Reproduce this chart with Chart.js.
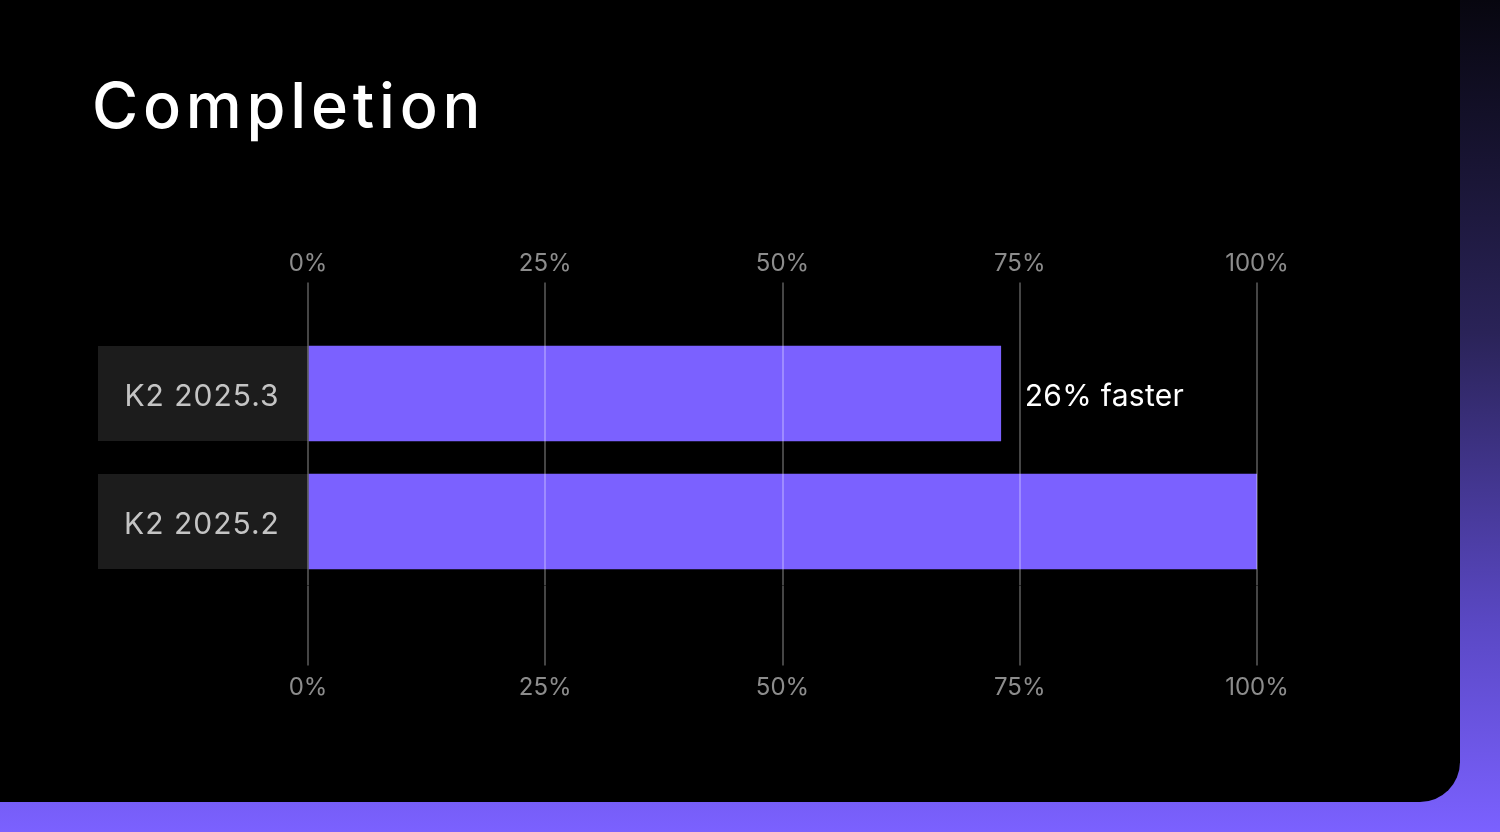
<!DOCTYPE html>
<html>
<head>
<meta charset="utf-8">
<script src="https://cdn.jsdelivr.net/npm/chart.js@4"></script>
<style>
  html, body { margin: 0; padding: 0; }
  body {
    width: 1500px; height: 832px; overflow: hidden; position: relative;
    background: linear-gradient(to bottom, #07060f 0%, #2a2358 40%, #5a48c4 75%, #7b61ff 100%);
    font-family: Inter, "Noto Sans", sans-serif;
  }
  #panel {
    position: absolute; left: 0; top: 0; width: 1460px; height: 802px;
    background: #000; border-bottom-right-radius: 40px;
  }
  h1 {
    position: absolute; left: 92px; top: 74px; margin: 0;
    font-size: 63px; line-height: 63px; font-weight: 500; color: #fff;
    letter-spacing: 4.8px;
  }
  canvas { position: absolute; left: 0; top: 0; }
</style>
</head>
<body>
<div id="panel"></div>
<h1>Completion</h1>
<canvas id="chart" width="1500" height="832"></canvas>
<script>
// data
const versions = ['K2 2025.3', 'K2 2025.2'];
const completion = [73, 100];
const notes = ['26% faster', ''];
const tickSteps = [0, 25, 50, 75, 100];

const gridColor = 'rgba(255,255,255,0.27)';
const tickFont = { family: 'Inter', size: 24 };

// grey boxes + version labels on the left, "faster" note after the bar
const labelBoxes = {
  id: 'labelBoxes',
  beforeDraw(chart) {
    const ctx = chart.ctx;
    const yScale = chart.scales.y;
    const meta = chart.getDatasetMeta(0);
    ctx.save();
    meta.data.forEach((bar, i) => {
      ctx.fillStyle = '#1c1c1c';
      ctx.fillRect(yScale.left, bar.y - bar.height / 2, yScale.width, bar.height);
      ctx.fillStyle = '#c4c4c4';
      ctx.font = '30px Inter';
      ctx.letterSpacing = '1px';
      ctx.textAlign = 'center';
      ctx.textBaseline = 'middle';
      ctx.fillText(yScale.getLabelForValue(i), yScale.left + yScale.width / 2 - 1, bar.y + 3);
    });
    ctx.restore();
  },
  afterDatasetsDraw(chart) {
    const ctx = chart.ctx;
    const meta = chart.getDatasetMeta(0);
    ctx.save();
    ctx.fillStyle = '#ffffff';
    ctx.font = '30px Inter';
    ctx.letterSpacing = '0.3px';
    ctx.textBaseline = 'middle';
    meta.data.forEach((bar, i) => {
      if (notes[i]) ctx.fillText(notes[i], bar.x + 24, bar.y + 3);
    });
    ctx.restore();
  }
};

new Chart(document.getElementById('chart'), {
  type: 'bar',
  data: {
    labels: versions,
    datasets: [{
      data: completion,
      backgroundColor: '#7b61ff',
      barThickness: 95,
      borderWidth: 0
    }]
  },
  options: {
    indexAxis: 'y',
    responsive: false,
    animation: false,
    layout: { padding: { left: 98, right: 243, top: 200, bottom: 100 } },
    plugins: { legend: { display: false }, tooltip: { enabled: false } },
    scales: {
      x: {
        position: 'top',
        min: 0, max: 100,
        z: 1,
        afterBuildTicks: s => { s.ticks = tickSteps.map(v => ({ value: v })); },
        afterFit: s => { s.height = 129.5; },
        grid: { z: 1, color: gridColor, lineWidth: 2, tickLength: 47, tickColor: gridColor },
        border: { display: false },
        ticks: { color: '#8c8c8c', font: tickFont, padding: 4, callback: v => v + '%' }
      },
      x2: {
        axis: 'x',
        position: 'bottom',
        min: 0, max: 100,
        z: 1,
        afterBuildTicks: s => { s.ticks = tickSteps.map(v => ({ value: v })); },
        afterFit: s => { s.height = 146.5; },
        grid: { z: 1, drawOnChartArea: false, color: gridColor, lineWidth: 2, tickLength: 80, tickColor: gridColor },
        border: { display: false },
        ticks: { color: '#8c8c8c', font: tickFont, padding: 8, callback: v => v + '%' }
      },
      y: {
        afterFit: s => { s.width = 210; },
        grid: { display: false },
        border: { display: false },
        ticks: { display: false }
      }
    }
  },
  plugins: [labelBoxes]
});
</script>
</body>
</html>
